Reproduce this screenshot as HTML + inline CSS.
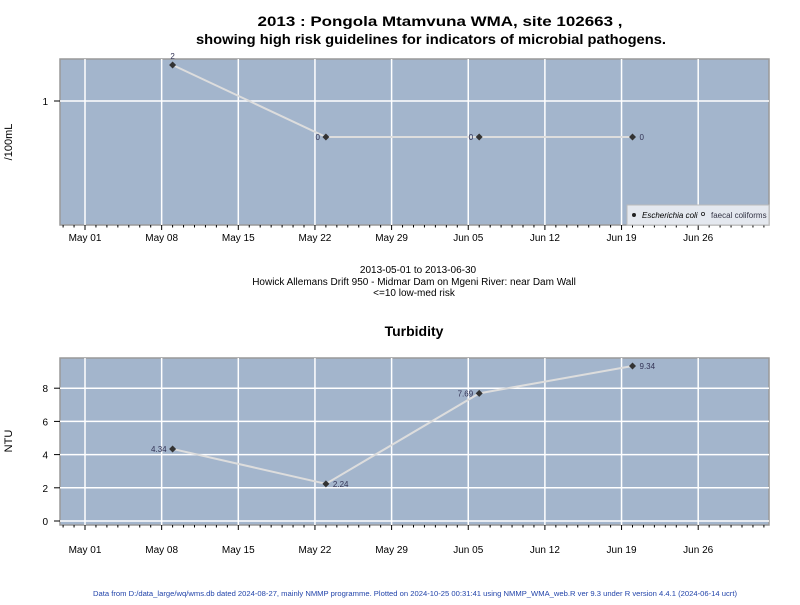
<!DOCTYPE html>
<html><head><meta charset="utf-8"><style>
body{margin:0;background:#fff;width:800px;height:600px;overflow:hidden}
svg{font-family:"Liberation Sans",sans-serif}
</style></head><body>
<svg id="c" width="800" height="600"></svg>
<script>
const dates1 = ["2013-05-09","2013-05-23","2013-06-06","2013-06-20"];
const ecoli = [2,0,0,0];
const ecoliLabels = ["2","0","0","0"];
const dates2 = ["2013-05-09","2013-05-23","2013-06-06","2013-06-20"];
const turb = [4.34,2.24,7.69,9.34];
const turbLabels = ["4.34","2.24","7.69","9.34"];
const xTickLabels = ["May 01","May 08","May 15","May 22","May 29","Jun 05","Jun 12","Jun 19","Jun 26"];
const yTicks2 = [0,2,4,6,8];

const NS="http://www.w3.org/2000/svg", svg=document.getElementById('c');
function mk(t,a,txt,p){const e=document.createElementNS(NS,t);for(const k in a)e.setAttribute(k,a[k]);if(txt!=null)e.textContent=txt;(p||svg).appendChild(e);return e;}
const day0=Date.UTC(2013,4,1);
function xs(d){const t=(typeof d==='number')?d:(Date.parse(d+"T00:00:00Z")-day0)/864e5;return 85+t*10.95;}
const L=60,R=769;
function ys1(v){const vv=v<=0?0.5:v;return 101-36*Math.log2(vv);}
function ys2(v){return 521-16.6*v;}

function title(x,y,t,size,bold,name,tl){const a={x:x,y:y,'text-anchor':'middle','font-size':size,'font-weight':bold?'bold':'normal'};if(tl){a.textLength=tl;a.lengthAdjust='spacingAndGlyphs';}const e=mk('text',a,t);return e;}
title(440,26,"2013 : Pongola Mtamvuna WMA, site 102663 ,",14,true,'chart-title-line1',365);
title(431,44,"showing high risk guidelines for indicators of microbial pathogens.",14,true,'chart-title-line2',470);

function panel(top,bot,pre,lblOff){
  const g=mk('g',{});
  const r=mk('rect',{x:L,y:top,width:R-L,height:bot-top,fill:'#a3b5cc',stroke:'#999','stroke-width':1.5},null,g);
  
  for(let i=0;i<xTickLabels.length;i++){
    const x=xs(i*7);
    const gl=mk('line',{x1:x,x2:x,y1:top,y2:bot,stroke:'#fff','stroke-width':1.5},null,g);
    
    mk('line',{x1:x,x2:x,y1:bot,y2:bot+5,stroke:'#000'},null,g);
    const t=mk('text',{x:x,y:bot+lblOff,'text-anchor':'middle','font-size':10},xTickLabels[i],g);
    
  }
  for(let d=-2;d<=62;d++){const x=xs(d);if(x<L||x>R||d%7===0)continue;mk('line',{x1:x,x2:x,y1:bot,y2:bot+2.5,stroke:'#000'},null,g);}
  return g;
}
// top panel
const g1=panel(59,225,'ecoli',16);
mk('line',{x1:L,x2:R,y1:ys1(1),y2:ys1(1),stroke:'#fff','stroke-width':1.5},null,g1);
mk('line',{x1:L-6,x2:L,y1:ys1(1),y2:ys1(1),stroke:'#000'},null,g1);
let t=mk('text',{x:L-12,y:ys1(1)+4,'text-anchor':'end','font-size':10},"1",g1);

t=mk('text',{x:12,y:142,'text-anchor':'middle','font-size':11,transform:'rotate(-90 12 142)'},"/100mL");

let pts=dates1.map((d,i)=>xs(d)+','+ys1(ecoli[i])).join(' ');
let ln=mk('polyline',{points:pts,fill:'none',stroke:'#ddd','stroke-width':2});

dates1.forEach((d,i)=>{const x=xs(d),y=ys1(ecoli[i]);
  const p=mk('path',{d:`M${x-3.5},${y}L${x},${y-3.5}L${x+3.5},${y}L${x},${y+3.5}Z`,fill:'#333'});
  
  const lb=i===0?mk('text',{x:x,y:y-6,'text-anchor':'middle','font-size':8,fill:'#335'},ecoliLabels[i]):mk('text',{x:(i===3?x+7:x-6),y:y+3,'text-anchor':i===3?'start':'end','font-size':8,fill:'#335'},ecoliLabels[i]);
  
});
// legend
const lg=mk('g',{});
mk('rect',{x:627,y:205,width:142,height:20,fill:'#e4e8ef',stroke:'#bbb'},null,lg);
mk('circle',{cx:634,cy:215,r:2,fill:'#222'},null,lg);
t=mk('text',{x:642,y:218,'font-size':8,'font-style':'italic'},"Escherichia coli",lg);
mk('circle',{cx:703,cy:214,r:1.6,fill:'none',stroke:'#222','stroke-width':0.8},null,lg);
t=mk('text',{x:711,y:218,'font-size':8,fill:'#334'},"faecal coliforms",lg);

title(418,273,"2013-05-01 to 2013-06-30",10,false,'date-range');
title(414,285,"Howick Allemans Drift 950 - Midmar Dam on Mgeni River: near Dam Wall",10,false,'site-description');
title(414,296,"<=10 low-med risk",10,false,'risk-note');
title(414,336,"Turbidity",14,true,'turbidity-title');

const g2=panel(358,525,'turbidity',28);
yTicks2.forEach(v=>{const y=ys2(v);
  mk('line',{x1:L,x2:R,y1:y,y2:y,stroke:'#fff','stroke-width':1.5},null,g2);
  mk('line',{x1:L-6,x2:L,y1:y,y2:y,stroke:'#000'},null,g2);
  const tt=mk('text',{x:L-12,y:y+4,'text-anchor':'end','font-size':10},String(v),g2);
  
});
t=mk('text',{x:12,y:441,'text-anchor':'middle','font-size':11,transform:'rotate(-90 12 441)'},"NTU");

pts=dates2.map((d,i)=>xs(d)+','+ys2(turb[i])).join(' ');
ln=mk('polyline',{points:pts,fill:'none',stroke:'#ddd','stroke-width':2});

dates2.forEach((d,i)=>{const x=xs(d),y=ys2(turb[i]);
  const p=mk('path',{d:`M${x-3.5},${y}L${x},${y-3.5}L${x+3.5},${y}L${x},${y+3.5}Z`,fill:'#333'});
  
  const left=(i===0||i===2);
  const lb=mk('text',{x:left?x-6:x+7,y:y+3,'text-anchor':left?'end':'start','font-size':8,fill:'#335'},turbLabels[i]);
  
});
t=mk('text',{x:415,y:596,'text-anchor':'middle','font-size':7,fill:'#2244aa',textLength:644,lengthAdjust:'spacingAndGlyphs'},"Data from D:/data_large/wq/wms.db dated 2024-08-27, mainly NMMP programme. Plotted on 2024-10-25 00:31:41 using NMMP_WMA_web.R ver 9.3 under R version 4.4.1 (2024-06-14 ucrt)");

</script>
</body></html>
